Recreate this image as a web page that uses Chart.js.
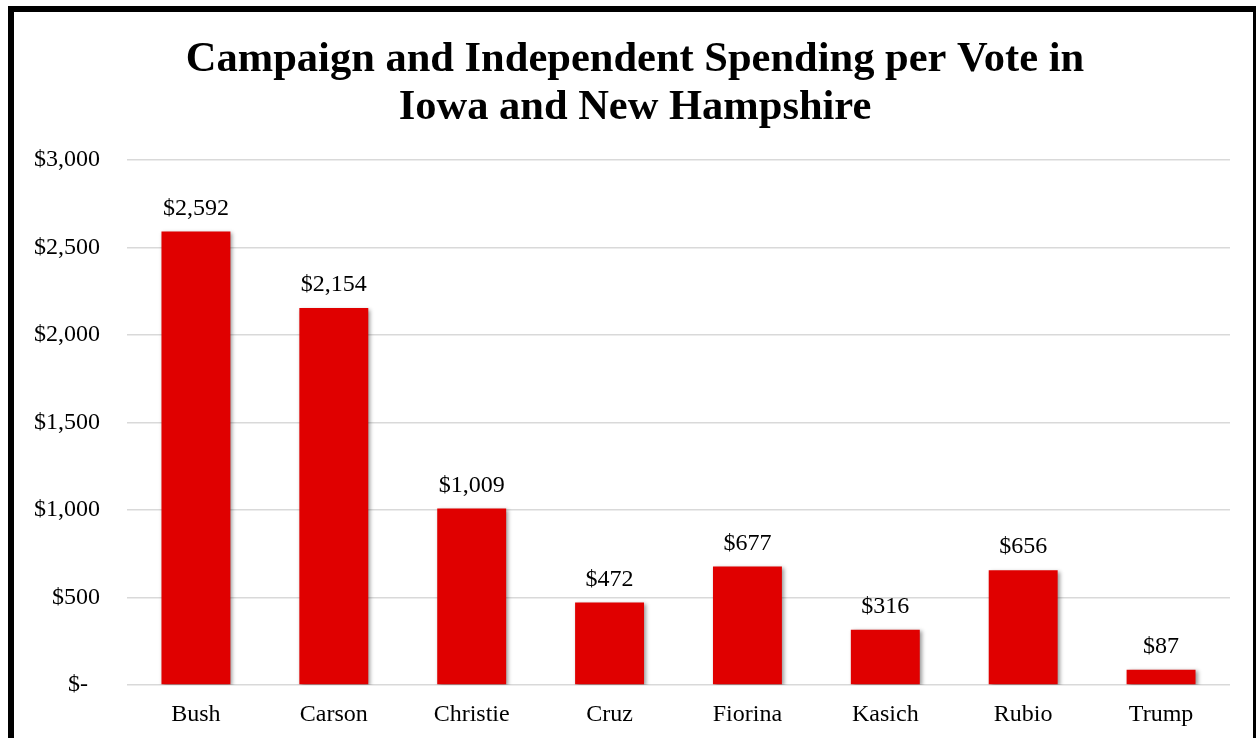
<!DOCTYPE html>
<html>
<head>
<meta charset="utf-8">
<script src="https://cdn.jsdelivr.net/npm/chart.js@4/dist/chart.umd.min.js"></script>
<style>
  html, body { margin: 0; padding: 0; background: #fff; overflow: hidden; }
  #frame {
    position: absolute; left: 8px; top: 6px;
    width: 1239px; height: 740px;
    border-left: 6px solid #000; border-top: 6px solid #000; border-right: 3px solid #000;
  }
  canvas { display: block; }
</style>
</head>
<body>
<div id="frame"><canvas id="spendChart" width="1239" height="726"></canvas></div>
<script>
const candidates = ['Bush', 'Carson', 'Christie', 'Cruz', 'Fiorina', 'Kasich', 'Rubio', 'Trump']
const spendPerVote = [2592, 2154, 1009, 472, 677, 316, 656, 87]
const yTicks = [0, 500, 1000, 1500, 2000, 2500, 3000]
const yTickLabels = ['$-  ', '$500', '$1,000', '$1,500', '$2,000', '$2,500', '$3,000']
const titleLines = ['Campaign and Independent Spending per Vote in', 'Iowa and New Hampshire']

const serif = "'Liberation Serif', 'Times New Roman', serif"

// title, centred a bit right of the canvas middle like the original
const chartTitle = {
    id: 'chartTitle',
    afterDraw(chart) {
        const ctx = chart.ctx
        ctx.save()
        ctx.font = 'bold 42.5px ' + serif
        ctx.fillStyle = '#000'
        ctx.textAlign = 'center'
        ctx.textBaseline = 'middle'
        titleLines.forEach((line, i) => {
            ctx.fillText(line, 621, 48 + i * 48)
        })
        ctx.restore()
    }
}

// soft shadow under the bars
const barShadow = {
    id: 'barShadow',
    beforeDatasetsDraw(chart) {
        const ctx = chart.ctx
        ctx.save()
        ctx.shadowColor = 'rgba(0,0,0,0.4)'
        ctx.shadowBlur = 4
        ctx.shadowOffsetX = 2
        ctx.shadowOffsetY = 1.5
    },
    afterDatasetsDraw(chart) {
        chart.ctx.restore()
    }
}

// value labels above the bars
const valueLabels = {
    id: 'valueLabels',
    afterDraw(chart) {
        const ctx = chart.ctx
        const meta = chart.getDatasetMeta(0)
        ctx.save()
        ctx.font = '24px ' + serif
        ctx.fillStyle = '#000'
        ctx.textAlign = 'center'
        ctx.textBaseline = 'middle'
        meta.data.forEach((bar, i) => {
            ctx.fillText('$' + spendPerVote[i].toLocaleString('en-US'), bar.x, bar.y - 23)
        })
        ctx.restore()
    }
}

const ctx = document.getElementById('spendChart').getContext('2d')
new Chart(ctx, {
    type: 'bar',
    data: {
        labels: candidates,
        datasets: [{
            data: spendPerVote,
            backgroundColor: '#e00000',
            borderWidth: 0,
            barPercentage: 0.5,
            categoryPercentage: 1
        }]
    },
    options: {
        responsive: false,
        animation: { duration: 0 },
        layout: { padding: { left: 0, right: 23, top: 148, bottom: 9 } },
        scales: {
            x: {
                afterFit(scale) { scale.height = 44 },
                grid: { display: false, drawTicks: false },
                border: { display: false },
                ticks: { color: '#000', padding: 15, font: { family: serif, size: 24 } }
            },
            y: {
                min: 0,
                max: 3000,
                afterBuildTicks(scale) {
                    scale.ticks = yTicks.map(v => ({ value: v }))
                },
                afterFit(scale) { scale.width = 113 },
                grid: { color: '#d9d9d9', lineWidth: 1.5, drawTicks: false },
                border: { display: false },
                ticks: {
                    color: '#000',
                    padding: 27,
                    font: { family: serif, size: 24 },
                    callback: (value) => yTickLabels[yTicks.indexOf(value)]
                }
            }
        },
        plugins: {
            legend: { display: false },
            tooltip: { enabled: false },
            title: { display: false }
        }
    },
    plugins: [barShadow, valueLabels, chartTitle]
})
</script>
</body>
</html>
